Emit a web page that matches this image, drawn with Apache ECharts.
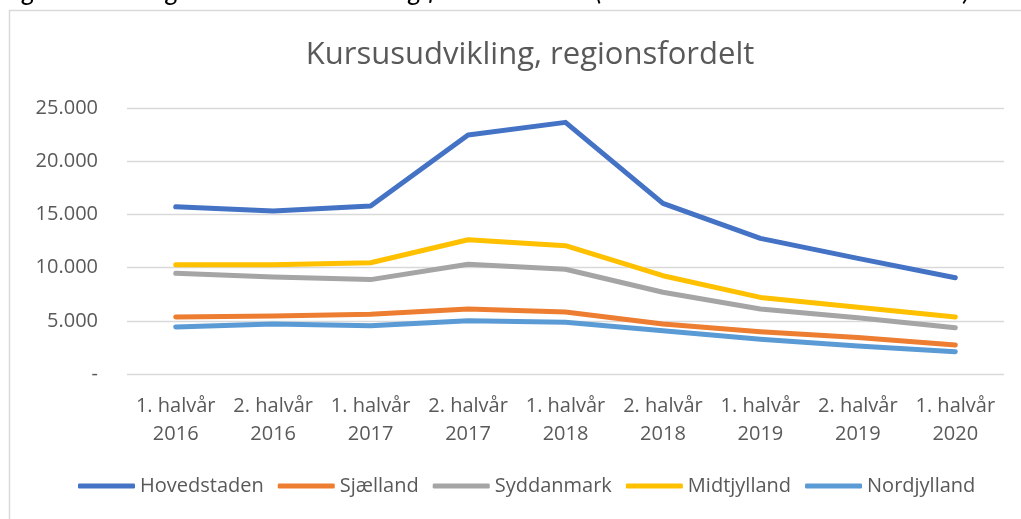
<!DOCTYPE html>
<html>
<head>
<meta charset="utf-8">
<script src="https://cdn.jsdelivr.net/npm/echarts@6/dist/echarts.min.js"></script>
<style>
  html, body { margin: 0; padding: 0; background: #fff; }
  #chart { width: 1021px; height: 519px; }
</style>
</head>
<body>
<div id="chart"></div>
<script>
const categories = [
  '1. halvår\n2016', '2. halvår\n2016', '1. halvår\n2017', '2. halvår\n2017',
  '1. halvår\n2018', '2. halvår\n2018', '1. halvår\n2019', '2. halvår\n2019', '1. halvår\n2020'
];
const hovedstaden = [15720, 15320, 15790, 22460, 23650, 16040, 12750, 10870, 9050];
const sjaelland   = [5360, 5450, 5610, 6110, 5830, 4700, 3980, 3420, 2730];
const syddanmark  = [9460, 9120, 8870, 10310, 9840, 7680, 6110, 5280, 4350];
const midtjylland = [10270, 10270, 10460, 12620, 12060, 9240, 7200, 6270, 5360];
const nordjylland = [4420, 4700, 4540, 5010, 4860, 4070, 3260, 2640, 2100];

const font = 'Open Sans';
const textColor = '#595959';

const chart = echarts.init(document.getElementById('chart'));

function line(name, data, color) {
  return {
    name, type: 'line', data,
    showSymbol: false, symbol: 'none',
    lineStyle: { color, width: 5, cap: 'round', join: 'round' },
    itemStyle: { color },
    animation: false
  };
}

chart.setOption({
  animation: false,
  title: {
    text: 'Kursusudvikling, regionsfordelt',
    left: 525, top: 35, textAlign: 'center',
    textStyle: { fontFamily: font, fontSize: 31, fontWeight: 'normal', color: textColor }
  },
  graphic: [
    {
      type: 'rect', silent: true,
      shape: { x: 9.5, y: 10.5, width: 1100, height: 600 },
      style: { fill: 'none', stroke: '#D9D9D9', lineWidth: 1.5 }
    },
    {
      type: 'text', silent: true, x: 2, y: -9,
      style: {
        text: 'Figur 1: Oversigt over kursusudvikling for hele landet (1. halvår 2016 – 1. halvår 2020)',
        font: 'italic 27px Lato', fill: '#000', verticalAlign: 'middle'
      }
    }
  ],
  grid: { left: 127, right: 17, top: 108, bottom: 145 },
  legend: {
    bottom: 18, left: 73,
    icon: 'roundRect', itemWidth: 57, itemHeight: 5, itemGap: 14,
    textStyle: { fontFamily: font, fontSize: 20, color: textColor },
    data: ['Hovedstaden', 'Sjælland', 'Syddanmark', 'Midtjylland', 'Nordjylland']
  },
  xAxis: {
    type: 'category', data: categories, boundaryGap: true,
    axisLine: { show: false }, axisTick: { show: false },
    axisLabel: { fontFamily: font, fontSize: 20, color: textColor, lineHeight: 28, margin: 18, interval: 0 }
  },
  yAxis: {
    type: 'value', min: 0, max: 25000, interval: 5000,
    axisLine: { show: false }, axisTick: { show: false },
    splitLine: { lineStyle: { color: '#D9D9D9', width: 1.3 } },
    axisLabel: {
      fontFamily: font, fontSize: 20, color: textColor, margin: 29,
      formatter: v => v === 0 ? '-' : String(v).replace(/\B(?=(\d{3})+(?!\d))/g, '.')
    }
  },
  series: [
    line('Hovedstaden', hovedstaden, '#4472C4'),
    line('Sjælland', sjaelland, '#ED7D31'),
    line('Syddanmark', syddanmark, '#A5A5A5'),
    line('Midtjylland', midtjylland, '#FFC000'),
    line('Nordjylland', nordjylland, '#5B9BD5')
  ]
});
</script>
</body>
</html>
